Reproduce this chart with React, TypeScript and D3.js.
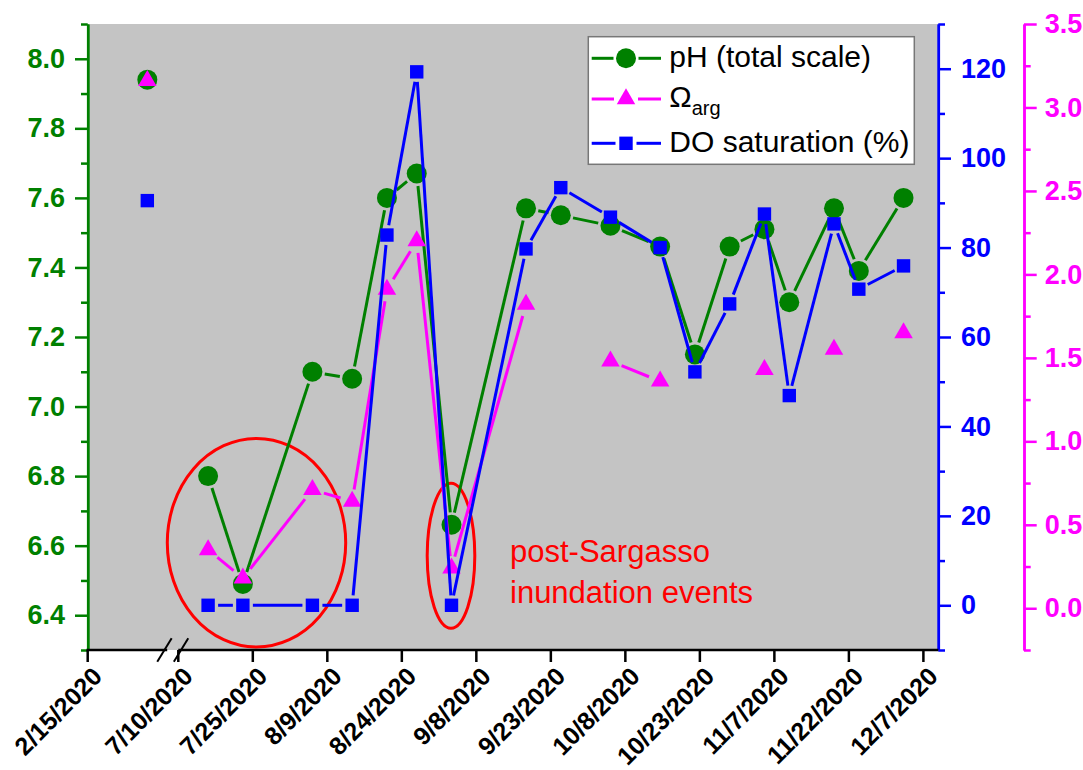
import * as d3 from 'd3'
import { useEffect, useRef } from 'react'

// sampling dates and measured values
const sampleDates = [
  '2/27/2020', '7/16/2020', '7/23/2020', '8/6/2020', '8/14/2020', '8/21/2020', '8/27/2020',
  '9/3/2020', '9/18/2020', '9/25/2020', '10/5/2020', '10/15/2020', '10/22/2020', '10/29/2020',
  '11/5/2020', '11/10/2020', '11/19/2020', '11/24/2020', '12/3/2020',
]
const phValues = [7.94, 6.8, 6.49, 7.1, 7.08, 7.6, 7.67, 6.66, 7.57, 7.55, 7.52, 7.46, 7.15, 7.46, 7.51, 7.3, 7.57, 7.39, 7.6]
const omegaValues = [3.16, 0.35, 0.18, 0.71, 0.64, 1.91, 2.2, 0.24, 1.82, null, 1.48, 1.36, null, null, 1.43, null, 1.55, null, 1.65]
const doValues = [90.5, 0, 0, 0, 0, 82.8, 119.3, 0, 79.7, 93.4, 86.8, 80, 52.2, 67.4, 87.5, 46.9, 85.3, 70.7, 75.9]

const xTickLabels = [
  '2/15/2020', '7/10/2020', '7/25/2020', '8/9/2020', '8/24/2020', '9/8/2020', '9/23/2020',
  '10/8/2020', '10/23/2020', '11/7/2020', '11/22/2020', '12/7/2020',
]
// x axis: [start, break start, break end, end]
const xDomainDates = ['2/15/2020', '3/2/2020', '7/10/2020', '12/10/2020']

const phTicks = [6.4, 6.6, 6.8, 7.0, 7.2, 7.4, 7.6, 7.8, 8.0]
const phMinor = [6.3, 6.5, 6.7, 6.9, 7.1, 7.3, 7.5, 7.7, 7.9, 8.1]
const doTicks = [0, 20, 40, 60, 80, 100, 120]
const doMinor = [-10, 10, 30, 50, 70, 90, 110, 130]
const omTicks = [0, 0.5, 1.0, 1.5, 2.0, 2.5, 3.0, 3.5]
const omMinor = [-0.25, 0.25, 0.75, 1.25, 1.75, 2.25, 2.75, 3.25]

const legendLabels = ['pH (total scale)', 'Ω', 'DO saturation (%)']
const noteLines = ['post-Sargasso', 'inundation events']

const GREEN = '#008000'
const MAGENTA = '#ff00ff'
const BLUE = '#0000ff'
const RED = '#ff0000'
const FONT = '"Liberation Sans", Arial, sans-serif'

const App = () => {
  const ref = useRef(null)

  useEffect(() => {
    if (!ref.current) return
    const W = 1083
    const H = 770
    const left = 87.7
    const right = 938.3
    const top = 24
    const bottom = 650
    const omAxisX = 1024

    d3.select(ref.current).select('svg').remove()
    const svg = d3
      .select(ref.current)
      .append('svg')
      .attr('width', W)
      .attr('height', H)
      .style('font-family', FONT)

    const parse = d3.timeParse('%m/%d/%Y')
    const dates = sampleDates.map((d) => parse(d))
    const xd = xDomainDates.map((d) => parse(d))

    const x = d3
      .scaleTime()
      .domain(xd)
      .range([left, 167.2, 178.3, right])
    const yPh = d3.scaleLinear().domain([6.3, 8.1]).range([bottom, top])
    const yDo = d3.scaleLinear().domain([-10, 130]).range([bottom, top])
    const yOm = d3.scaleLinear().domain([-0.25, 3.5]).range([bottom, top])

    // plot background
    svg
      .append('rect')
      .attr('x', left)
      .attr('y', top)
      .attr('width', right - left)
      .attr('height', bottom - top)
      .attr('fill', '#c4c4c4')

    // annotation ellipses (under data)
    const ann = svg.append('g')
    ann
      .append('ellipse')
      .attr('cx', 256.5)
      .attr('cy', 542.7)
      .attr('rx', 89.2)
      .attr('ry', 104.3)
      .attr('fill', 'none')
      .attr('stroke', RED)
      .attr('stroke-width', 3)
    ann
      .append('ellipse')
      .attr('cx', 451)
      .attr('cy', 555.8)
      .attr('rx', 23.8)
      .attr('ry', 72.5)
      .attr('fill', 'none')
      .attr('stroke', RED)
      .attr('stroke-width', 3)

    const breakDate = xd[2]
    const seg = (d) => (d < breakDate ? 0 : 1)

    const triPath = (w, h) => `M0,${(-2 * h) / 3}L${w / 2},${h / 3}L${-w / 2},${h / 3}Z`

    const drawMarker = (g, type, cx, cy, color) => {
      if (type === 'circle') {
        g.append('circle').attr('cx', cx).attr('cy', cy).attr('r', 10).attr('fill', color)
      } else if (type === 'square') {
        g.append('rect')
          .attr('x', cx - 6.7)
          .attr('y', cy - 6.7)
          .attr('width', 13.4)
          .attr('height', 13.4)
          .attr('fill', color)
      } else {
        g.append('path')
          .attr('d', triPath(18.5, 16))
          .attr('transform', `translate(${cx},${cy})`)
          .attr('fill', color)
      }
    }

    const drawSeries = (values, yScale, color, type, gap) => {
      const g = svg.append('g')
      const pts = values.map((v, i) =>
        v == null ? null : { x: x(dates[i]), y: yScale(v), s: seg(dates[i]) }
      )
      for (let i = 1; i < pts.length; i++) {
        const a = pts[i - 1]
        const b = pts[i]
        if (!a || !b || a.s !== b.s) continue
        const dx = b.x - a.x
        const dy = b.y - a.y
        const len = Math.hypot(dx, dy)
        if (len <= gap * 2) continue
        const ux = dx / len
        const uy = dy / len
        g.append('line')
          .attr('x1', a.x + ux * gap)
          .attr('y1', a.y + uy * gap)
          .attr('x2', b.x - ux * gap)
          .attr('y2', b.y - uy * gap)
          .attr('stroke', color)
          .attr('stroke-width', 3)
      }
      pts.forEach((p) => {
        if (p) drawMarker(g, type, p.x, p.y, color)
      })
    }

    drawSeries(phValues, yPh, GREEN, 'circle', 12.5)
    drawSeries(omegaValues, yOm, MAGENTA, 'triangle', 12)
    drawSeries(doValues, yDo, BLUE, 'square', 10)

    // annotation text
    svg
      .append('g')
      .selectAll('text')
      .data(noteLines)
      .enter()
      .append('text')
      .attr('x', 510)
      .attr('y', (d, i) => 561.7 + i * 41.6)
      .attr('fill', RED)
      .style('font-size', '31px')
      .text((d) => d)

    const styleAxis = (g, color, labels) => {
      g.select('.domain').attr('stroke', color).attr('stroke-width', 2.5)
      g.selectAll('.tick line').attr('stroke', color).attr('stroke-width', 2.5)
      if (labels) {
        g.selectAll('.tick text')
          .attr('fill', color)
          .style('font-size', '27px')
          .style('font-weight', 'bold')
          .style('font-family', FONT)
      } else {
        g.selectAll('.tick text').remove()
      }
    }

    // left pH axis
    svg
      .append('g')
      .attr('transform', `translate(${left},0)`)
      .call(d3.axisLeft(yPh).tickValues(phMinor).tickSize(6.7).tickSizeOuter(0))
      .call((g) => styleAxis(g, GREEN, false))
    svg
      .append('g')
      .attr('transform', `translate(${left},0)`)
      .call(
        d3
          .axisLeft(yPh)
          .tickValues(phTicks)
          .tickSize(12.7)
          .tickSizeOuter(0)
          .tickPadding(10)
          .tickFormat(d3.format('.1f'))
      )
      .call((g) => styleAxis(g, GREEN, true))

    // right DO axis
    svg
      .append('g')
      .attr('transform', `translate(${right},0)`)
      .call(d3.axisRight(yDo).tickValues(doMinor).tickSize(6.7).tickSizeOuter(0))
      .call((g) => styleAxis(g, BLUE, false))
    svg
      .append('g')
      .attr('transform', `translate(${right},0)`)
      .call(
        d3.axisRight(yDo).tickValues(doTicks).tickSize(12.7).tickSizeOuter(0).tickPadding(10).tickFormat(d3.format('d'))
      )
      .call((g) => styleAxis(g, BLUE, true))

    // far right omega axis
    svg
      .append('g')
      .attr('transform', `translate(${omAxisX},0)`)
      .call(d3.axisRight(yOm).tickValues(omMinor).tickSize(6.7).tickSizeOuter(0))
      .call((g) => styleAxis(g, MAGENTA, false))
    svg
      .append('g')
      .attr('transform', `translate(${omAxisX},0)`)
      .call(
        d3.axisRight(yOm).tickValues(omTicks).tickSize(12.7).tickSizeOuter(0).tickPadding(8).tickFormat(d3.format('.1f'))
      )
      .call((g) => styleAxis(g, MAGENTA, true))

    // bottom x axis with break
    const xg = svg.append('g')
    const tickDates = xTickLabels.map((d) => parse(d))
    xg.append('line')
      .attr('x1', x(xd[0]) - 1.2)
      .attr('x2', x(xd[1]))
      .attr('y1', bottom)
      .attr('y2', bottom)
      .attr('stroke', '#000')
      .attr('stroke-width', 2.5)
    xg.append('line')
      .attr('x1', x(xd[2]))
      .attr('x2', x(xd[3]))
      .attr('y1', bottom)
      .attr('y2', bottom)
      .attr('stroke', '#000')
      .attr('stroke-width', 2.5)
    xg.selectAll('.xtick')
      .data(tickDates)
      .enter()
      .append('line')
      .attr('x1', (d) => x(d))
      .attr('x2', (d) => x(d))
      .attr('y1', bottom)
      .attr('y2', bottom + 12)
      .attr('stroke', '#000')
      .attr('stroke-width', 2.5)
    xg.selectAll('.xlabel')
      .data(tickDates)
      .enter()
      .append('text')
      .attr('transform', (d) => `translate(${x(d) + 16},${bottom + 28}) rotate(-45)`)
      .attr('text-anchor', 'end')
      .style('font-size', '25px')
      .style('font-weight', 'bold')
      .text((d, i) => xTickLabels[i])
    // break marks
    const bx = (x(xd[1]) + x(xd[2])) / 2
    ;[-8.3, 8.3].forEach((off) => {
      xg.append('line')
        .attr('x1', bx + off - 7.2)
        .attr('y1', bottom + 11.7)
        .attr('x2', bx + off + 7.2)
        .attr('y2', bottom - 11.7)
        .attr('stroke', '#000')
        .attr('stroke-width', 2)
    })

    // legend
    const lg = svg.append('g')
    lg.append('rect')
      .attr('x', 588.3)
      .attr('y', 36.7)
      .attr('width', 326)
      .attr('height', 127.6)
      .attr('fill', '#fff')
      .attr('stroke', '#777')
      .attr('stroke-width', 1.5)
    const rows = [
      { color: GREEN, type: 'circle', y: 58.3, gap: 12.5, ty: 67.3 },
      { color: MAGENTA, type: 'triangle', y: 99, gap: 12, ty: 107.3 },
      { color: BLUE, type: 'square', y: 143.3, gap: 10.5, ty: 151.7 },
    ]
    const mx = 626
    rows.forEach((r, i) => {
      lg.append('line')
        .attr('x1', 591.7)
        .attr('x2', mx - r.gap)
        .attr('y1', r.y)
        .attr('y2', r.y)
        .attr('stroke', r.color)
        .attr('stroke-width', 3)
      lg.append('line')
        .attr('x1', mx + r.gap)
        .attr('x2', 661)
        .attr('y1', r.y)
        .attr('y2', r.y)
        .attr('stroke', r.color)
        .attr('stroke-width', 3)
      drawMarker(lg, r.type, mx, r.y, r.color)
      const t = lg
        .append('text')
        .attr('x', 669.3)
        .attr('y', r.ty)
        .style('font-size', '30px')
        .text(legendLabels[i])
      if (i === 1) {
        t.append('tspan').attr('dy', 8).style('font-size', '20px').text('arg')
      }
    })
  }, [])

  return <div ref={ref} style={{ position: 'absolute', left: 0, top: 0 }} />
}

export default App
